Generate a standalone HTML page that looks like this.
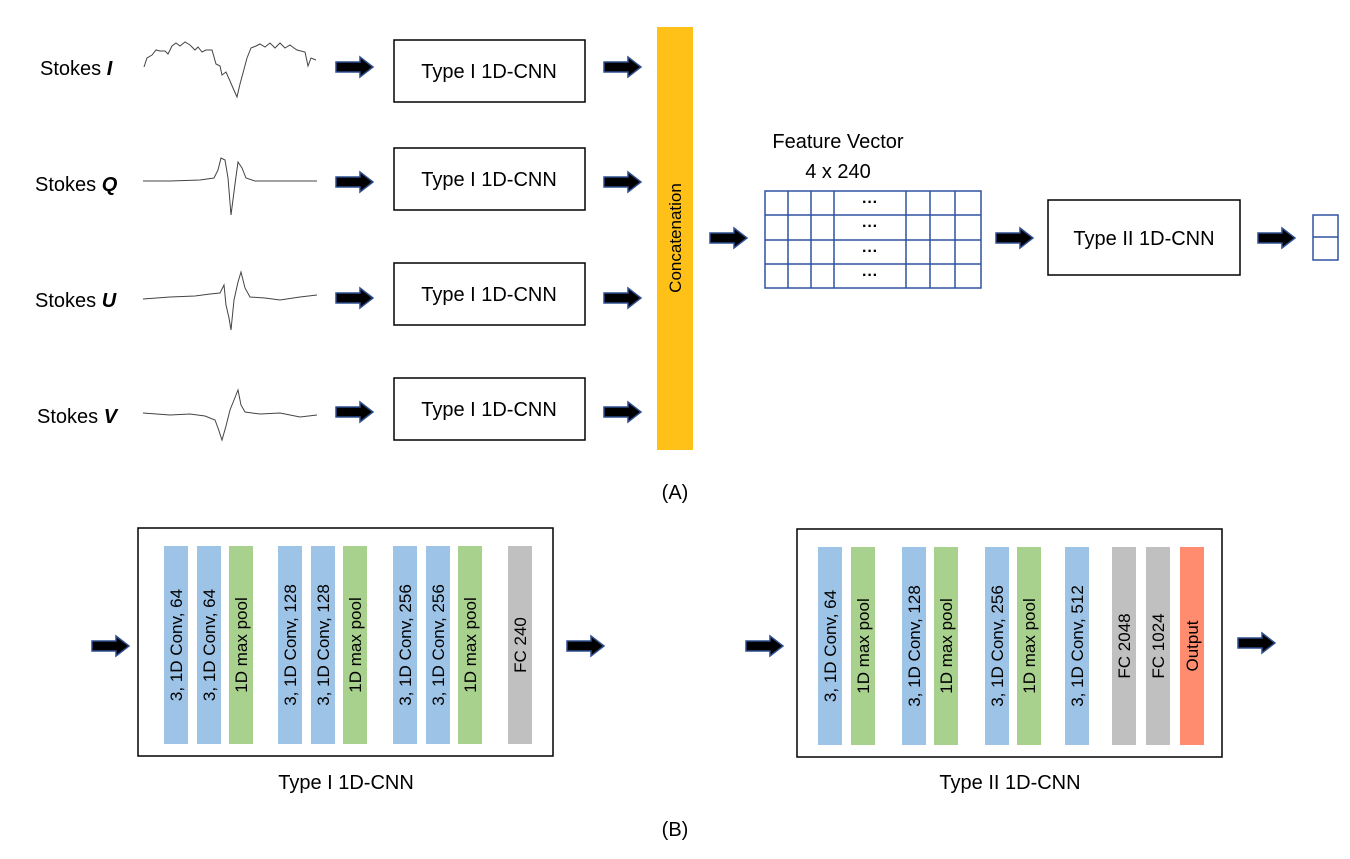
<!DOCTYPE html>
<html><head><style>body{margin:0;background:#fff}svg{display:block}text{font-family:"Liberation Sans",sans-serif;fill:#000}</style></head><body>
<svg width="1350" height="859" viewBox="0 0 1350 859">
<defs>
<g id="ar"><path d="M0,-5 H24 V-10 L37,0 L24,10 V5 H0 Z" fill="#000" stroke="#2F4F8F" stroke-width="1.5"/></g>
</defs>
<g font-size="20">
<text x="40" y="75">Stokes <tspan font-style="italic" font-weight="bold">I</tspan></text>
<text x="35" y="191">Stokes <tspan font-style="italic" font-weight="bold">Q</tspan></text>
<text x="35" y="307">Stokes <tspan font-style="italic" font-weight="bold">U</tspan></text>
<text x="37" y="423">Stokes <tspan font-style="italic" font-weight="bold">V</tspan></text>
</g>
<g fill="none" stroke="#444" stroke-width="1">
<polyline points="144,67 147,58 152,55 156,50 160,51 165,51 168,54 172,46 176,43 180,46 185,42 190,45 195,50 198,47 202,52 206,50 212,50 216,64 220,66 222,75 226,72 230,81 233,88 237,97 240,84 243,73 247,58 251,48 256,46 260,44 265,47 270,43 275,48 280,43 285,48 290,45 294,48 297,50 305,52 308,66 311,58 316,60"/>
<polyline points="143,181 170,181 200,180 214,178 218,170 221,158 225,160 228,178 231,215 235,184 238,162 242,168 246,178 255,181 280,181 317,181"/>
<polyline points="143,299 170,297 195,296 210,294 220,293 224,285 226,305 229,318 231,330 234,300 238,282 241,272 245,288 250,297 265,298 280,300 300,297 317,295"/>
<polyline points="143,413 170,415 190,414 205,416 215,420 218,428 222,440 226,426 230,410 234,400 238,390 241,405 245,412 260,414 280,413 300,417 317,415"/>
</g>
<g fill="none" stroke="#000" stroke-width="1.5">
<rect x="394" y="40" width="191" height="62"/><rect x="394" y="148" width="191" height="62"/>
<rect x="394" y="263" width="191" height="62"/><rect x="394" y="378" width="191" height="62"/>
<rect x="1048" y="200" width="192" height="75"/>
<rect x="138" y="528" width="415" height="228"/><rect x="797" y="529" width="425" height="228"/>
</g>
<g font-size="20" text-anchor="middle">
<text x="489" y="78">Type I 1D-CNN</text><text x="489" y="186">Type I 1D-CNN</text>
<text x="489" y="301">Type I 1D-CNN</text><text x="489" y="416">Type I 1D-CNN</text>
<text x="1144" y="245">Type II 1D-CNN</text>
<text x="838" y="148">Feature Vector</text>
<text x="838" y="178">4 x 240</text>
<text x="675" y="499">(A)</text><text x="675" y="836">(B)</text>
<text x="346" y="789">Type I 1D-CNN</text><text x="1010" y="789">Type II 1D-CNN</text>
</g>
<rect x="657" y="27" width="36" height="423" fill="#FFC118"/>
<text transform="translate(681,238) rotate(-90)" font-size="17" text-anchor="middle">Concatenation</text>
<g fill="none" stroke="#2F52A0" stroke-width="1.5">
<rect x="765" y="191" width="216" height="97"/>
<path d="M765,215H981M765,240H981M765,264H981M788,191V288M811,191V288M834,191V288M906,191V288M930,191V288M955,191V288"/>
<rect x="1313" y="215" width="25" height="45"/><path d="M1313,237H1338"/>
</g>
<g font-size="16" text-anchor="middle" font-weight="bold"><text x="870" y="207">···</text><text x="870" y="231">···</text><text x="870" y="256">···</text><text x="870" y="280">···</text></g>
<use href="#ar" x="336" y="67"/><use href="#ar" x="336" y="182"/><use href="#ar" x="336" y="298"/><use href="#ar" x="336" y="412"/>
<use href="#ar" x="604" y="67"/><use href="#ar" x="604" y="182"/><use href="#ar" x="604" y="298"/><use href="#ar" x="604" y="412"/>
<use href="#ar" x="710" y="238"/><use href="#ar" x="996" y="238"/><use href="#ar" x="1258" y="238"/>
<use href="#ar" x="92" y="646"/><use href="#ar" x="567" y="646"/><use href="#ar" x="746" y="646"/><use href="#ar" x="1238" y="643"/>
<g font-size="17" text-anchor="middle">
<rect x="164" y="546" width="24" height="198" fill="#9DC3E6"/><text transform="translate(182,645) rotate(-90)">3, 1D Conv, 64</text>
<rect x="197" y="546" width="24" height="198" fill="#9DC3E6"/><text transform="translate(215,645) rotate(-90)">3, 1D Conv, 64</text>
<rect x="229" y="546" width="24" height="198" fill="#A9D18E"/><text transform="translate(247,645) rotate(-90)">1D max pool</text>
<rect x="278" y="546" width="24" height="198" fill="#9DC3E6"/><text transform="translate(296,645) rotate(-90)">3, 1D Conv, 128</text>
<rect x="311" y="546" width="24" height="198" fill="#9DC3E6"/><text transform="translate(329,645) rotate(-90)">3, 1D Conv, 128</text>
<rect x="343" y="546" width="24" height="198" fill="#A9D18E"/><text transform="translate(361,645) rotate(-90)">1D max pool</text>
<rect x="393" y="546" width="24" height="198" fill="#9DC3E6"/><text transform="translate(411,645) rotate(-90)">3, 1D Conv, 256</text>
<rect x="426" y="546" width="24" height="198" fill="#9DC3E6"/><text transform="translate(444,645) rotate(-90)">3, 1D Conv, 256</text>
<rect x="458" y="546" width="24" height="198" fill="#A9D18E"/><text transform="translate(476,645) rotate(-90)">1D max pool</text>
<rect x="508" y="546" width="24" height="198" fill="#C0C0C0"/><text transform="translate(526,645) rotate(-90)">FC 240</text>
<rect x="818" y="547" width="24" height="198" fill="#9DC3E6"/><text transform="translate(836,646) rotate(-90)">3, 1D Conv, 64</text>
<rect x="851" y="547" width="24" height="198" fill="#A9D18E"/><text transform="translate(869,646) rotate(-90)">1D max pool</text>
<rect x="902" y="547" width="24" height="198" fill="#9DC3E6"/><text transform="translate(920,646) rotate(-90)">3, 1D Conv, 128</text>
<rect x="934" y="547" width="24" height="198" fill="#A9D18E"/><text transform="translate(952,646) rotate(-90)">1D max pool</text>
<rect x="985" y="547" width="24" height="198" fill="#9DC3E6"/><text transform="translate(1003,646) rotate(-90)">3, 1D Conv, 256</text>
<rect x="1017" y="547" width="24" height="198" fill="#A9D18E"/><text transform="translate(1035,646) rotate(-90)">1D max pool</text>
<rect x="1065" y="547" width="24" height="198" fill="#9DC3E6"/><text transform="translate(1083,646) rotate(-90)">3, 1D Conv, 512</text>
<rect x="1112" y="547" width="24" height="198" fill="#C0C0C0"/><text transform="translate(1130,646) rotate(-90)">FC 2048</text>
<rect x="1146" y="547" width="24" height="198" fill="#C0C0C0"/><text transform="translate(1164,646) rotate(-90)">FC 1024</text>
<rect x="1180" y="547" width="24" height="198" fill="#FF8C6E"/><text transform="translate(1198,646) rotate(-90)">Output</text>
</g>
</svg>
</body></html>
